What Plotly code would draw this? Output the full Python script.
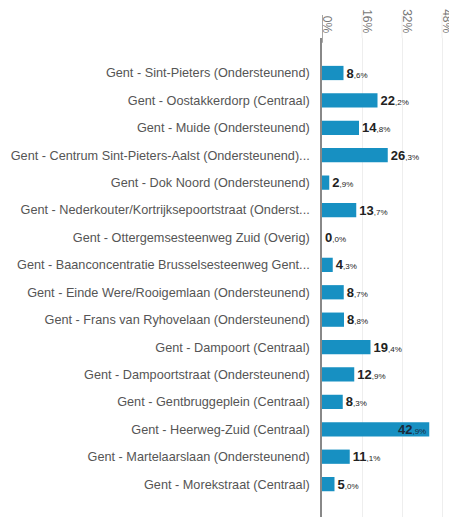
import plotly.graph_objects as go

categories = [
    "Gent - Sint-Pieters (Ondersteunend)",
    "Gent - Oostakkerdorp (Centraal)",
    "Gent - Muide (Ondersteunend)",
    "Gent - Centrum Sint-Pieters-Aalst (Ondersteunend)...",
    "Gent - Dok Noord (Ondersteunend)",
    "Gent - Nederkouter/Kortrijksepoortstraat (Onderst...",
    "Gent - Ottergemsesteenweg Zuid (Overig)",
    "Gent - Baanconcentratie Brusselsesteenweg Gent...",
    "Gent - Einde Were/Rooigemlaan (Ondersteunend)",
    "Gent - Frans van Ryhovelaan (Ondersteunend)",
    "Gent - Dampoort (Centraal)",
    "Gent - Dampoortstraat (Ondersteunend)",
    "Gent - Gentbruggeplein (Centraal)",
    "Gent - Heerweg-Zuid (Centraal)",
    "Gent - Martelaarslaan (Ondersteunend)",
    "Gent - Morekstraat (Centraal)",
]
values = [8.6, 22.2, 14.8, 26.3, 2.9, 13.7, 0.0, 4.3, 8.7, 8.8, 19.4, 12.9, 8.3, 42.9, 11.1, 5.0]
tick_vals = [0, 16, 32, 48]
tick_text = ["0%", "16%", "32%", "48%"]

def fmt(v):
    s = f"{v:.1f}"
    ip, dp = s.split(".")
    return f"<b>{ip}</b><span style='font-size:8px'>,{dp}%</span>"

texts = [fmt(v) for v in values]
positions = ["inside" if v > 40 else "outside" for v in values]

fig = go.Figure(go.Bar(
    x=values, y=categories, orientation="h",
    marker=dict(color="#1790C2", line=dict(width=0)),
    text=texts, textposition=positions,
    insidetextanchor="end",
    textfont=dict(family="Liberation Sans, Arial, sans-serif", size=13, color="#222222"),
    insidetextfont=dict(color="#1a2a3a", size=13),
    outsidetextfont=dict(color="#222222", size=13),
    cliponaxis=False,
    width=0.52,
))

# extend axis line and gridlines up to the tick-label band
top_ext = 1 + 23 / 479
fig.add_shape(type="line", xref="x", yref="paper", x0=0, x1=0, y0=0.99, y1=top_ext,
              line=dict(color="#888888", width=1.5))
for tv in tick_vals[1:]:
    fig.add_shape(type="line", xref="x", yref="paper", x0=tv, x1=tv, y0=1, y1=top_ext,
                  line=dict(color="#eeeeee", width=1), layer="below")

fig.update_layout(
    width=449, height=509,
    margin=dict(l=314, r=0, t=30, b=0, autoexpand=False),
    paper_bgcolor="white", plot_bgcolor="white",
    showlegend=False,
    uniformtext=dict(minsize=13, mode="show"),
    font=dict(family="Liberation Sans, Arial, sans-serif"),
    xaxis=dict(
        range=[0, 54], side="top",
        tickvals=tick_vals, ticktext=tick_text,
        tickangle=90, automargin=False,
        tickfont=dict(size=12, color="#777777"),
        showgrid=True, gridcolor="#eeeeee", gridwidth=1,
        zeroline=False, showline=False, fixedrange=True,
        ticks="", ticklabelstandoff=2, ticklabelshift=5,
    ),
    yaxis=dict(
        categoryorder="array", categoryarray=categories,
        range=[16.2, -1.277], automargin=False,
        tickfont=dict(size=12.7, color="#555555"),
        showline=True, linecolor="#888888", linewidth=1.5,
        showgrid=False, zeroline=False,
        ticks="", ticklabelstandoff=8,
    ),
)

fig.write_html("out.html")
